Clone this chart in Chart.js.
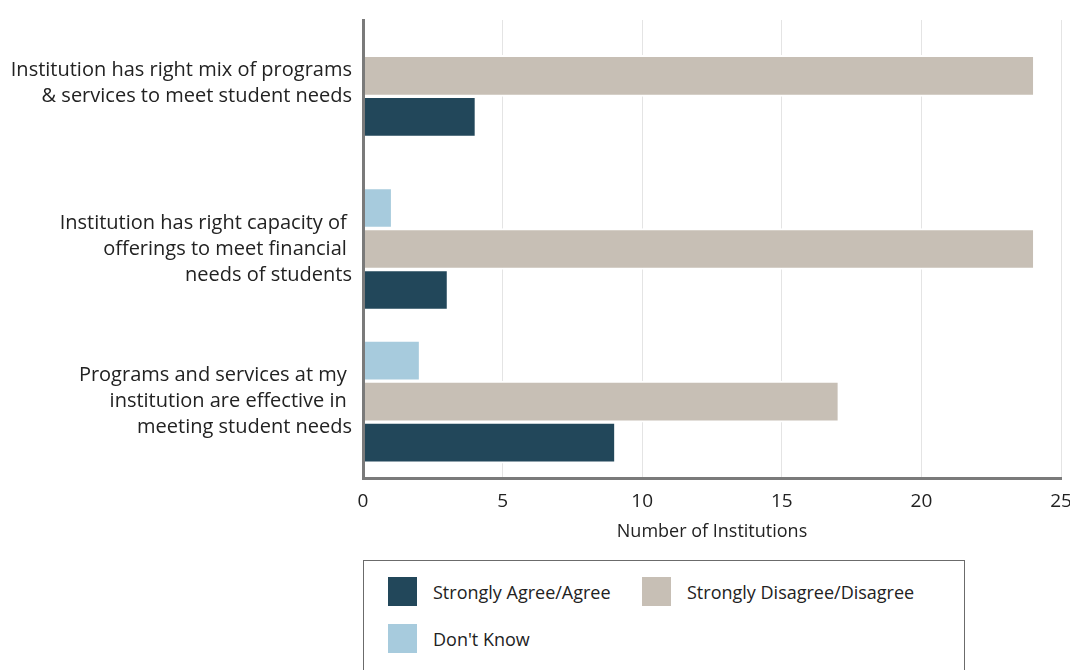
<!DOCTYPE html>
<html>
<head>
<meta charset="utf-8">
<script src="https://cdn.jsdelivr.net/npm/chart.js@4"></script>
<style>
  html, body { margin: 0; padding: 0; background: #fff; }
  #page { position: relative; width: 1070px; height: 670px; overflow: hidden; font-family: "Open Sans", sans-serif; }
  #chart_wrapper { position: absolute; left: 0; top: 0; width: 1070px; height: 560px; }
  #legend {
    position: absolute; left: 363px; top: 560px; width: 602px; height: 140px;
    border: 1px solid #6b6b6b; box-sizing: border-box;
    display: flex; flex-wrap: wrap; align-content: flex-start;
    padding: 16px 0 0 24px; row-gap: 18px;
  }
  .legend-item { width: 254px; display: flex; align-items: center; font-size: 18px; color: #222; white-space: nowrap; }
  .legend-swatch { width: 29px; height: 29px; margin-right: 16px; flex: none; }
</style>
</head>
<body>
<div id="page">
  <div id="chart_wrapper"><canvas id="chart"></canvas></div>
  <div id="legend"></div>
</div>
<script>
// trailing "" keeps the two-line label sitting a little higher, like the others
var categories = [
  ["Institution has right mix of programs", "& services to meet student needs", ""],
  ["Institution has right capacity of ", "offerings to meet financial ", "needs of students"],
  ["Programs and services at my ", "institution are effective in ", "meeting student needs"]
];

// null = no answers, bar is skipped so the group stays centred
var dontKnow = [null, 1, 2];
var disagree = [24, 24, 17];
var agree = [4, 3, 9];

var xTicks = [0, 5, 10, 15, 20, 25];

var seriesNames = ["Don't Know", "Strongly Disagree/Disagree", "Strongly Agree/Agree"];
var seriesColors = ["#a7cbdd", "#c7bfb5", "#22475a"];
var legendOrder = [2, 1, 0];

function buildLegend() {
  let legend = document.getElementById("legend");
  for (let i = 0; i < legendOrder.length; i++) {
    let idx = legendOrder[i];
    let item = document.createElement("div");
    item.className = "legend-item";
    let swatch = document.createElement("span");
    swatch.className = "legend-swatch";
    swatch.style.background = seriesColors[idx];
    let text = document.createElement("span");
    text.textContent = seriesNames[idx];
    item.appendChild(swatch);
    item.appendChild(text);
    legend.appendChild(item);
  }
}

function drawChart() {
  let ctx = document.getElementById("chart").getContext("2d");
  let values = [dontKnow, disagree, agree];
  let datasets = [];
  for (let i = 0; i < values.length; i++) {
    datasets.push({
      label: seriesNames[i],
      data: values[i],
      backgroundColor: seriesColors[i],
      // fixed slot per bar, white top/bottom edge gives the gap between bars
      barThickness: 41,
      borderWidth: { top: 2, bottom: 2, left: 0, right: 0 },
      borderColor: "#ffffff",
      borderSkipped: false,
      skipNull: true
    });
  }

  new Chart(ctx, {
    type: "bar",
    data: { labels: categories, datasets: datasets },
    options: {
      indexAxis: "y",
      responsive: true,
      maintainAspectRatio: false,
      animation: false,
      layout: { padding: { top: 20, right: 9, left: 0, bottom: 0 } },
      scales: {
        x: {
          min: xTicks[0],
          max: xTicks[xTicks.length - 1],
          afterBuildTicks: function(scale) {
            scale.ticks = xTicks.map(function(v) { return { value: v }; });
          },
          afterFit: function(scale) {
            scale.height = 82;
            scale.paddingLeft = 0;
            scale.paddingRight = 0;
          },
          grid: { color: "#e4e4e4", lineWidth: 1, drawTicks: false },
          border: { display: true, color: "#7a7a7a", width: 3, z: 1 },
          ticks: {
            padding: 12,
            color: "#222",
            font: { family: "Open Sans", size: 19 }
          },
          title: {
            display: true,
            text: "Number of Institutions",
            color: "#222",
            font: { family: "Open Sans", size: 18 },
            padding: { top: 4, bottom: 17 }
          }
        },
        y: {
          afterFit: function(scale) {
            scale.width = 363;
            scale.paddingTop = 0;
            scale.paddingBottom = 0;
          },
          grid: { display: false, drawTicks: false },
          border: { display: true, color: "#7a7a7a", width: 3, z: 1 },
          ticks: {
            padding: 11,
            color: "#222",
            font: { family: "Open Sans", size: 20, lineHeight: 1.3 }
          }
        }
      },
      plugins: {
        legend: { display: false },
        tooltip: { enabled: false }
      }
    }
  });
}

buildLegend();
drawChart();
</script>
</body>
</html>
